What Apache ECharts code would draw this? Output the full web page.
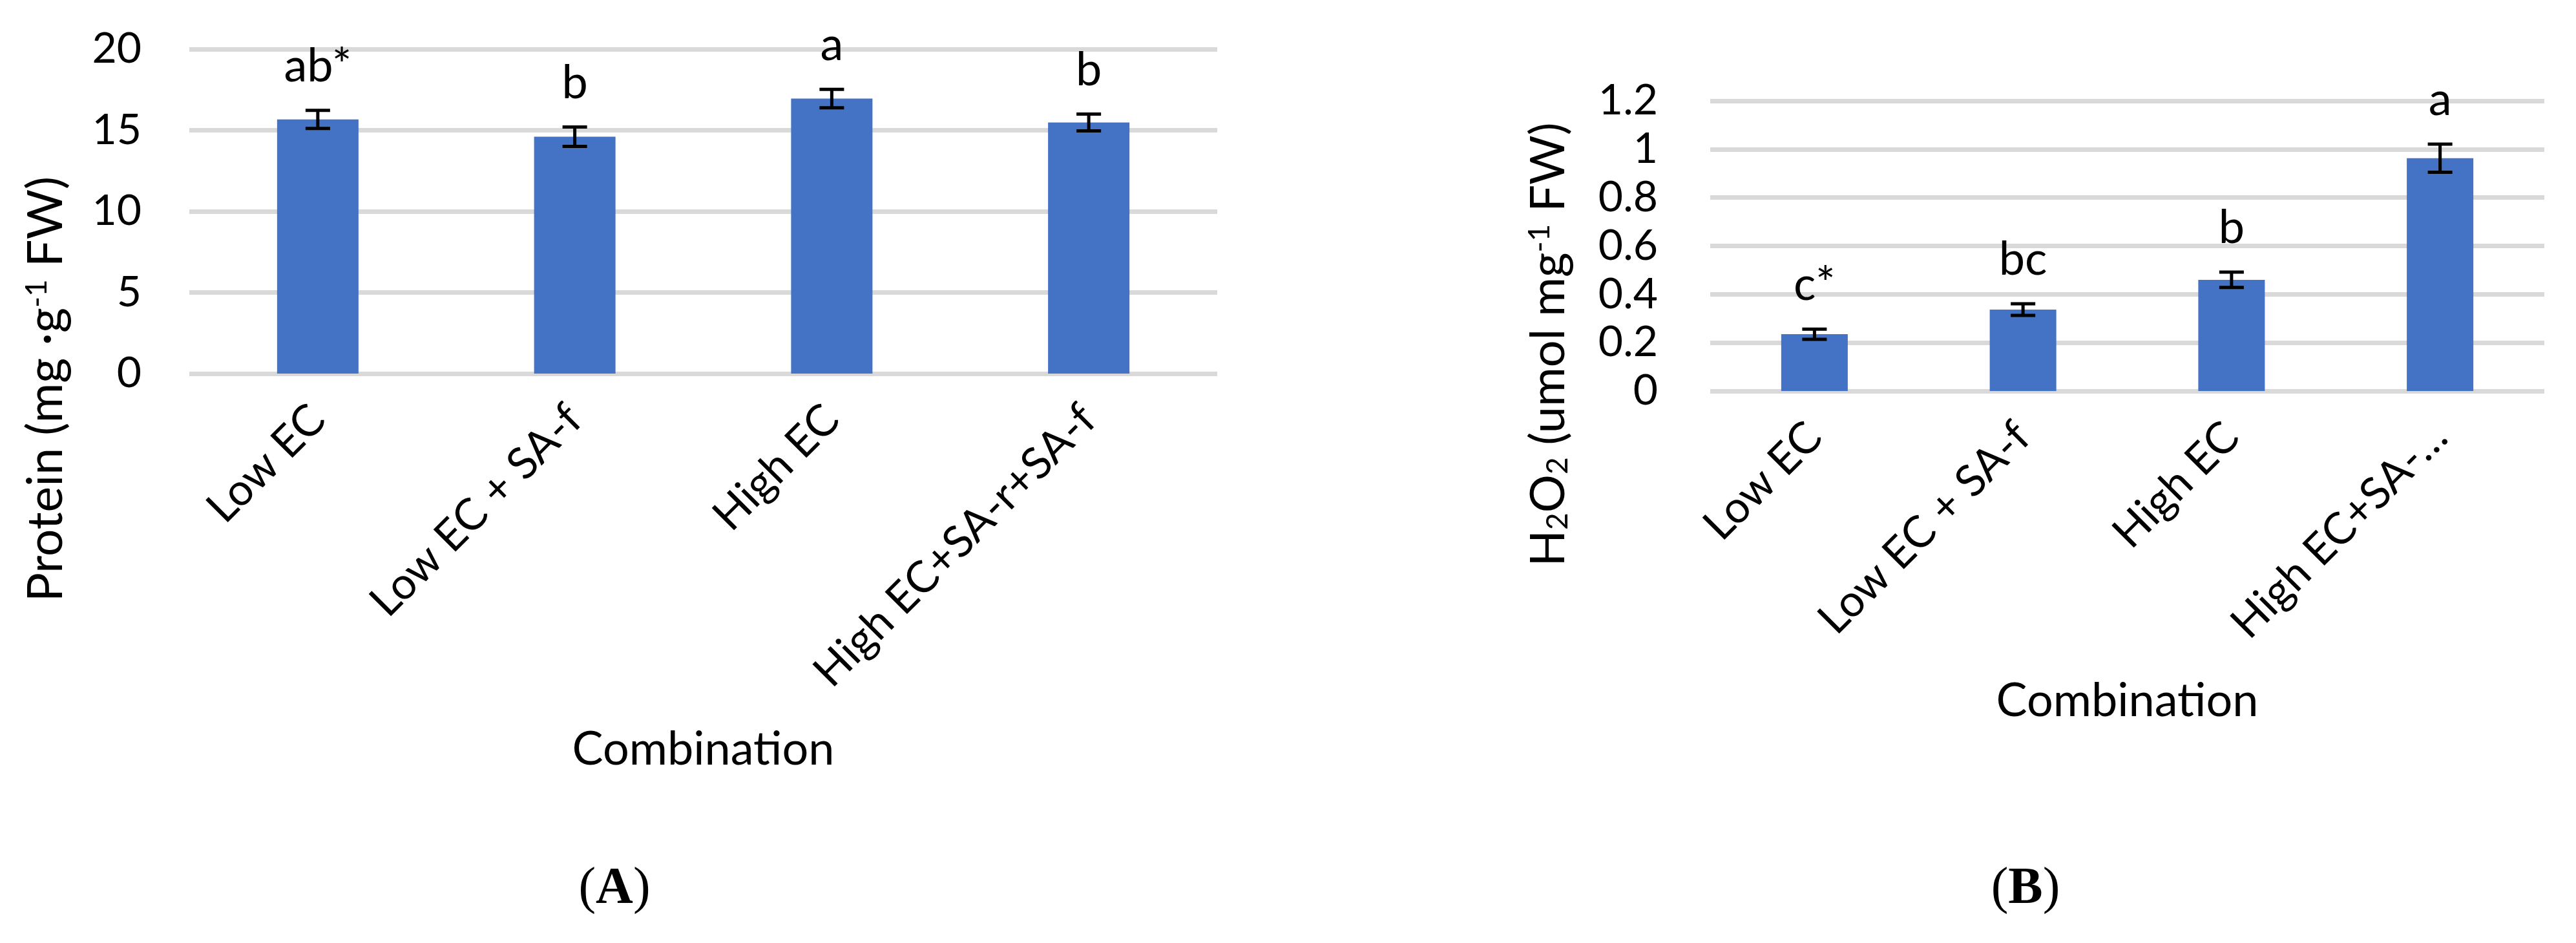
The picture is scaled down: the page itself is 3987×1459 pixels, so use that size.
<!DOCTYPE html>
<html>
<head>
<meta charset="utf-8">
<script src="https://cdn.jsdelivr.net/npm/echarts@6/dist/echarts.min.js"></script>
<style>
  html, body { margin: 0; padding: 0; background: #fff; }
  #chart { width: 3987px; height: 1459px; }
</style>
</head>
<body>
<div id="chart"></div>
<script>
  // panel A - protein
  const categoriesA = ['Low EC', 'Low EC + SA-f', 'High EC', 'High EC+SA-r+SA-f'];
  const proteinValues = [15.67, 14.6, 16.95, 15.48];
  const proteinErrors = [0.56, 0.6, 0.57, 0.52];
  const proteinLetters = ['ab*', 'b', 'a', 'b'];
  const proteinTicks = [0, 5, 10, 15, 20];

  // panel B - H2O2
  const categoriesB = ['Low EC', 'Low EC + SA-f', 'High EC', 'High EC+SA-…'];
  const h2o2Values = [0.235, 0.337, 0.46, 0.963];
  const h2o2Errors = [0.021, 0.024, 0.032, 0.058];
  const h2o2Letters = ['c*', 'bc', 'b', 'a'];
  const h2o2Ticks = [0, 0.2, 0.4, 0.6, 0.8, 1, 1.2];

  const FONT = 'Lato, "Open Sans", sans-serif';
  const BLUE = '#4472C4';
  const GRID_GRAY = '#D9D9D9';

  const chart = echarts.init(document.getElementById('chart'));

  // error bar + significance letter drawn above it
  function errorBar(letters) {
    return function (params, api) {
      const i = api.value(0);
      const v = api.value(1);
      const e = api.value(2);
      const hi = api.coord([i, v + e]);
      const lo = api.coord([i, v - e]);
      const cap = 19;
      const ls = { stroke: '#000', lineWidth: 5 };
      return {
        type: 'group',
        children: [
          { type: 'line', shape: { x1: hi[0], y1: hi[1], x2: lo[0], y2: lo[1] }, style: ls },
          { type: 'line', shape: { x1: hi[0] - cap, y1: hi[1], x2: hi[0] + cap, y2: hi[1] }, style: ls },
          { type: 'line', shape: { x1: lo[0] - cap, y1: lo[1], x2: lo[0] + cap, y2: lo[1] }, style: ls },
          {
            type: 'text',
            x: hi[0],
            y: hi[1] - 32,
            style: {
              text: letters[params.dataIndex],
              fill: '#000',
              fontSize: 72,
              fontFamily: FONT,
              align: 'center',
              verticalAlign: 'bottom'
            }
          }
        ]
      };
    };
  }

  function valueAxis(gridIndex, ticks, margin) {
    return {
      type: 'value',
      gridIndex: gridIndex,
      min: ticks[0],
      max: ticks[ticks.length - 1],
      interval: ticks[1] - ticks[0],
      axisLine: { show: false },
      axisTick: { show: false },
      splitLine: { show: true, lineStyle: { color: GRID_GRAY, width: 7 } },
      axisLabel: { color: '#000', fontSize: 66, fontFamily: FONT, margin: margin }
    };
  }

  function categoryAxis(gridIndex, cats, nameGap) {
    return {
      type: 'category',
      gridIndex: gridIndex,
      data: cats,
      axisLine: { show: false },
      axisTick: { show: false },
      axisLabel: { color: '#000', fontSize: 68, fontFamily: FONT, rotate: 45, interval: 0, margin: 60 },
      name: 'Combination',
      nameLocation: 'middle',
      nameGap: nameGap,
      nameMoveOverlap: false,
      nameTextStyle: { color: '#000', fontSize: 72, fontFamily: FONT }
    };
  }

  const richTitle = {
    sup: { fontSize: 46, fontFamily: FONT, fill: '#000', verticalAlign: 'top' },
    sub: { fontSize: 46, fontFamily: FONT, fill: '#000', verticalAlign: 'bottom' }
  };

  chart.setOption({
    backgroundColor: '#fff',
    animation: false,
    grid: [
      { left: 293, right: 2103, top: 76, bottom: 881, outerBoundsMode: 'none' },
      { left: 2647, right: 49, top: 156, bottom: 854, outerBoundsMode: 'none' }
    ],
    xAxis: [
      categoryAxis(0, categoriesA, 546),
      categoryAxis(1, categoriesB, 444)
    ],
    yAxis: [
      valueAxis(0, proteinTicks, 74),
      valueAxis(1, h2o2Ticks, 81)
    ],
    series: [
      {
        type: 'bar', xAxisIndex: 0, yAxisIndex: 0,
        data: proteinValues, barWidth: 126,
        itemStyle: { color: BLUE }
      },
      {
        type: 'custom', xAxisIndex: 0, yAxisIndex: 0,
        renderItem: errorBar(proteinLetters),
        data: proteinValues.map((v, i) => [i, v, proteinErrors[i]]),
        z: 10
      },
      {
        type: 'bar', xAxisIndex: 1, yAxisIndex: 1,
        data: h2o2Values, barWidth: 103,
        itemStyle: { color: BLUE }
      },
      {
        type: 'custom', xAxisIndex: 1, yAxisIndex: 1,
        renderItem: errorBar(h2o2Letters),
        data: h2o2Values.map((v, i) => [i, v, h2o2Errors[i]]),
        z: 10
      }
    ],
    graphic: [
      {
        type: 'text', x: 72, y: 602, rotation: Math.PI / 2,
        style: {
          text: 'Protein (mg ·g{sup|-1} FW)',
          rich: richTitle,
          fill: '#000', fontSize: 75, fontFamily: FONT,
          align: 'center', verticalAlign: 'middle'
        }
      },
      {
        type: 'text', x: 2397, y: 533, rotation: Math.PI / 2,
        style: {
          text: 'H{sub|2}O{sub|2} (umol mg{sup|-1} FW)',
          rich: richTitle,
          fill: '#000', fontSize: 74, fontFamily: FONT,
          align: 'center', verticalAlign: 'middle'
        }
      },
      {
        type: 'text', x: 951, y: 1376,
        style: {
          text: '({b|A})',
          rich: { b: { fontWeight: 'bold', fontSize: 80, fontFamily: '"Liberation Serif", serif', fill: '#000' } },
          fill: '#000', fontSize: 80, fontFamily: '"Liberation Serif", serif',
          align: 'center', verticalAlign: 'middle'
        }
      },
      {
        type: 'text', x: 3135, y: 1376,
        style: {
          text: '({b|B})',
          rich: { b: { fontWeight: 'bold', fontSize: 80, fontFamily: '"Liberation Serif", serif', fill: '#000' } },
          fill: '#000', fontSize: 80, fontFamily: '"Liberation Serif", serif',
          align: 'center', verticalAlign: 'middle'
        }
      }
    ]
  });
</script>
</body>
</html>
